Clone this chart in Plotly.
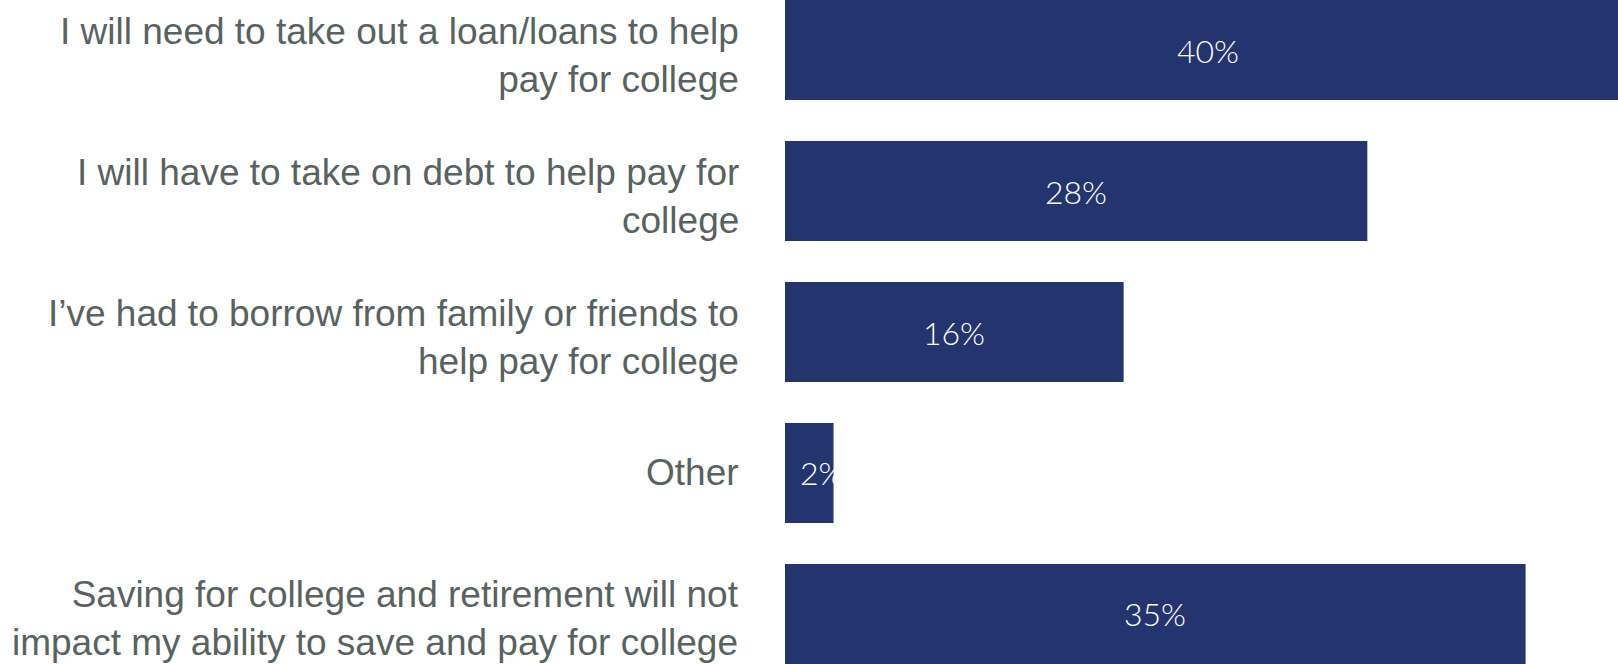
import plotly.graph_objects as go

categories = [
    "I will need to take out a loan/loans to help<br>pay for college",
    "I will have to take on debt to help pay for<br>college",
    "I’ve had to borrow from family or friends to<br>help pay for college",
    "Other",
    "Saving for college and retirement will not<br>impact my ability to save and pay for college",
]
values = [40.1, 27.6, 16.05, 2.3, 35.1]
value_labels = ["40%", "28%", "16%", "2%", "35%"]

BAR = "#24346e"
GRAY = "#58625f"

fig = go.Figure()
fig.add_trace(go.Bar(
    x=values,
    y=categories,
    orientation="h",
    marker=dict(color=BAR, line=dict(width=0)),
    hoverinfo="skip",
))

# value labels, centred in each bar (white text overflowing the narrow bar vanishes on white)
for v, c, t in zip(values, categories, value_labels):
    narrow = v < 5
    fig.add_annotation(
        x=v / 2, y=c, xref="x", yref="y", text=t, showarrow=False,
        font=dict(family="Lato", size=32, color="white", weight=300),
        xanchor="center", yanchor="middle",
        xshift=13 if narrow else 0,
    )

# category labels, right-aligned left of the bars
for c in categories:
    multi = "<br>" in c
    fig.add_annotation(
        x=0, y=c, xref="x", yref="y", text=c, showarrow=False,
        font=dict(family="Liberation Sans, Arial", size=37, color=GRAY),
        xanchor="right", yanchor="middle", align="right",
        xshift=-44, yshift=-5 if multi else 0,
    )

fig.update_layout(
    width=1618, height=664,
    margin=dict(l=785, r=0, t=0, b=0),
    paper_bgcolor="white", plot_bgcolor="white",
    bargap=0.29,
    showlegend=False,
    xaxis=dict(range=[0, 39.48], visible=False, showgrid=False, zeroline=False),
    yaxis=dict(
        categoryorder="array", categoryarray=categories,
        range=[4.355, -0.355],
        showgrid=False, zeroline=False, showline=False, ticks="",
        showticklabels=False,
    ),
)

fig.write_html(
    "out.html",
    config={"displayModeBar": False},
    post_script="document.body.style.margin='0';document.body.style.padding='0';",
)
